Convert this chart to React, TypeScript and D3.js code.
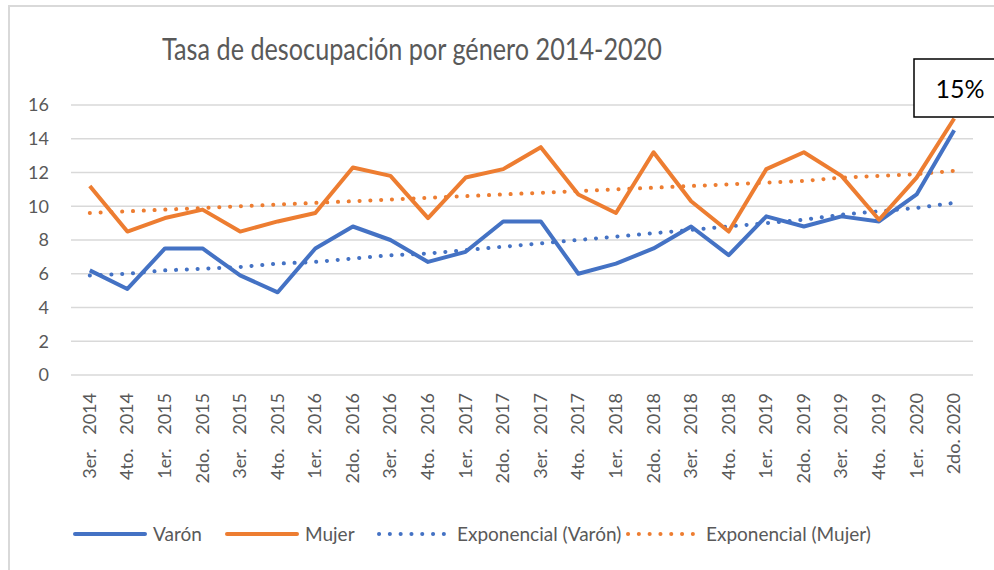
import React from 'react';
import * as d3 from 'd3';

// quarters (trimestres) as they appear on the x axis
const categories = [
  '3er.   2014', '4to.   2014', '1er.   2015', '2do.   2015', '3er.   2015', '4to.   2015',
  '1er.   2016', '2do.   2016', '3er.   2016', '4to.   2016', '1er.   2017', '2do.   2017',
  '3er.   2017', '4to.   2017', '1er.   2018', '2do.   2018', '3er.   2018', '4to.   2018',
  '1er.   2019', '2do.   2019', '3er.   2019', '4to.   2019', '1er.   2020', '2do. 2020',
];

const varon = [
  6.2, 5.1, 7.5, 7.5, 5.9, 4.9, 7.5, 8.8, 8.0, 6.7, 7.3, 9.1,
  9.1, 6.0, 6.6, 7.5, 8.8, 7.1, 9.4, 8.8, 9.4, 9.1, 10.7, 14.5,
];

const mujer = [
  11.2, 8.5, 9.3, 9.8, 8.5, 9.1, 9.6, 12.3, 11.8, 9.3, 11.7, 12.2,
  13.5, 10.7, 9.6, 13.2, 10.3, 8.5, 12.2, 13.2, 11.8, 9.2, 11.7, 15.2,
];

// dotted exponential trend lines
const expVaron = [
  5.9, 6.0, 6.2, 6.3, 6.4, 6.6, 6.7, 6.9, 7.1, 7.2, 7.4, 7.6,
  7.8, 8.0, 8.2, 8.4, 8.6, 8.8, 9.0, 9.2, 9.5, 9.7, 9.9, 10.2,
];

const expMujer = [
  9.6, 9.7, 9.8, 9.9, 10.0, 10.1, 10.2, 10.3, 10.4, 10.5, 10.6, 10.7,
  10.8, 10.9, 11.0, 11.1, 11.2, 11.3, 11.4, 11.5, 11.7, 11.8, 11.9, 12.1,
];

const yTicks = [0, 2, 4, 6, 8, 10, 12, 14, 16];

const title = 'Tasa de desocupación por género 2014-2020';
const callout = '15%';

const BLUE = '#4472C4';
const ORANGE = '#ED7D31';
const TEXT = '#595959';
const GRID = '#d9d9d9';
const FONT = 'Lato, "Open Sans", sans-serif';

const App: React.FC = () => {
  const width = 994;
  const height = 570;

  const x = d3.scaleBand<string>().domain(categories).range([71, 973]);
  const y = d3.scaleLinear().domain([0, 16]).range([375, 105]);
  const cx = (i: number) => (x(categories[i]) ?? 0) + x.bandwidth() / 2;

  const line = d3
    .line<number>()
    .x((_, i) => cx(i))
    .y((d) => y(d));

  const legend = [
    { label: 'Varón', color: BLUE, dotted: false, x: 153 },
    { label: 'Mujer', color: ORANGE, dotted: false, x: 305 },
    { label: 'Exponencial (Varón)', color: BLUE, dotted: true, x: 457 },
    { label: 'Exponencial (Mujer)', color: ORANGE, dotted: true, x: 706 },
  ];

  return (
    <svg
      width={width}
      height={height}
      style={{ position: 'absolute', left: 0, top: 0, background: '#fff' }}
      fontFamily={FONT}
    >
      <rect x={9} y={6} width={1000} height={600} fill="#fff" stroke={GRID} strokeWidth={2} />

      <text x={162} y={60} fontSize={30} fill={TEXT} textLength={500} lengthAdjust="spacingAndGlyphs">
        {title}
      </text>

      {/* gridlines + y ticks */}
      {yTicks.map((t) => (
        <g key={t}>
          <line x1={71} x2={973} y1={y(t)} y2={y(t)} stroke={GRID} strokeWidth={1.5} />
          <text x={49} y={y(t)} dy="0.35em" textAnchor="end" fontSize={18} fill={TEXT}>
            {t}
          </text>
        </g>
      ))}

      {/* x labels */}
      {categories.map((c, i) => (
        <text
          key={c}
          transform={`translate(${cx(i) + 6},393) rotate(-90)`}
          textAnchor="end"
          fontSize={18}
          fill={TEXT}
          style={{ whiteSpace: 'pre' }}
        >
          {c}
        </text>
      ))}

      <path d={line(expVaron) ?? ''} fill="none" stroke={BLUE} strokeWidth={4}
        strokeDasharray="0.1 10.7" strokeLinecap="round" />
      <path d={line(expMujer) ?? ''} fill="none" stroke={ORANGE} strokeWidth={4}
        strokeDasharray="0.1 10.7" strokeLinecap="round" />
      <path d={line(varon) ?? ''} fill="none" stroke={BLUE} strokeWidth={4} strokeLinejoin="round" />
      <path d={line(mujer) ?? ''} fill="none" stroke={ORANGE} strokeWidth={4} strokeLinejoin="round" />

      {/* data label callout */}
      <rect x={914} y={59} width={100} height={58} fill="#fff" stroke="#000" strokeWidth={1.5} />
      <text x={960} y={98} textAnchor="middle" fontSize={25} fill="#000">
        {callout}
      </text>

      {/* legend */}
      {legend.map((l) => (
        <g key={l.label}>
          <line
            x1={l.x - 78}
            x2={l.x - 8}
            y1={534}
            y2={534}
            stroke={l.color}
            strokeWidth={4}
            strokeLinecap="round"
            strokeDasharray={l.dotted ? '0.1 10.7' : undefined}
          />
          <text x={l.x} y={534} dy="0.35em" fontSize={19} fill={TEXT}>
            {l.label}
          </text>
        </g>
      ))}
    </svg>
  );
};

export default App;
